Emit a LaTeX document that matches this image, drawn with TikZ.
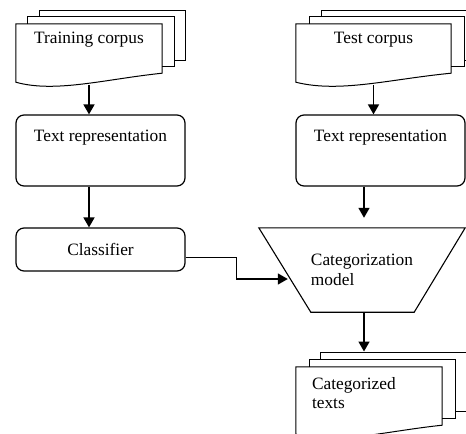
\documentclass[tikz,border=0pt]{standalone}
\usepackage{fontspec}
\setmainfont{Liberation Serif}
\usetikzlibrary{arrows.meta}

% 文書の前ページの波形の輪郭
\newcommand{\docwave}[1]{%
  \draw[line width=1bp] (#1.north west) -- (#1.north east)
    -- ([shift={(0,-12)}]#1.south east)
    .. controls ([shift={(16,-6)}]#1.south) and ([shift={(-34,8)}]#1.south)
    .. ([shift={(0,-3)}]#1.south west) -- cycle;}

\begin{document}
\begin{tikzpicture}[x=1bp, y=-1bp,
    font=\fontsize{17.4}{20}\selectfont,
    page/.style={rectangle, draw, fill=white, line width=1bp, inner sep=0pt},
    frontpage/.style={rectangle, fill=white, inner sep=0pt},
    procbox/.style={rectangle, rounded corners=8bp, draw, line width=1.2bp,
      inner sep=0pt, minimum width=169bp},
    arrow/.style={-{Triangle[length=10bp, width=11bp]}, line width=1.6bp}]
    \useasboundingbox (0,0) rectangle (466,434);
    \clip (0,0) rectangle (466,434);

    % 学習コーパス
    \node[page, minimum width=146bp, minimum height=50bp] (train3) at (112, 36) {};
    \node[page, minimum width=146bp, minimum height=50bp] (train2) at (101, 42) {};
    \node[frontpage, minimum width=146bp, text height=20bp, text depth=41bp] (train) at (89, 54.5) {Training corpus};
    \docwave{train}

    % テストコーパス
    \node[page, minimum width=155bp, minimum height=50bp] (test3) at (398.5, 36) {};
    \node[page, minimum width=155bp, minimum height=50bp] (test2) at (386.5, 42) {};
    \node[frontpage, minimum width=155bp, text height=20bp, text depth=41bp] (test) at (373.5, 54.5) {Test corpus};
    \docwave{test}

    % 処理ボックス
    \node[procbox, text height=27bp, text depth=44bp] (trainrep) at (100.5, 150.5) {Text representation};
    \node[procbox, text height=27bp, text depth=44bp] (testrep) at (380.5, 150.5) {Text representation};
    \node[procbox, minimum height=43bp] (clf) at (100.5, 249.5) {Classifier};

    % 分類モデル(逆台形)
    \node[minimum width=206bp, minimum height=84bp, inner sep=0pt, align=left] (model) at (362, 270) {Categorization\\model};
    \draw[line width=1.1bp] (model.north west) -- (model.north east)
      -- ([shift={(-51,0)}]model.south east) -- ([shift={(52,0)}]model.south west) -- cycle;

    % 分類済みテキスト
    \node[page, minimum width=146bp, minimum height=59bp] (cat3) at (393, 381.5) {};
    \node[page, minimum width=146bp, minimum height=59bp] (cat2) at (382, 388.5) {};
    \node[frontpage, minimum width=146bp, minimum height=70bp] (cat) at (369, 402) {};
    \docwave{cat}
    \node[anchor=north west, inner sep=0pt, align=left] (cattext) at ([shift={(16,10)}]cat.north west) {Categorized\\texts};

    % 矢印
    \draw[arrow] (train.south) -- (train.south |- trainrep.north);
    \draw[arrow] (test.south) -- (test.south |- testrep.north);
    \draw[arrow] (train.south |- trainrep.south) -- (train.south |- clf.north);
    \draw[arrow] ([shift={(2,0)}]model.north |- testrep.south) -- ([shift={(2,-10)}]model.north);
    \draw[arrow] ([shift={(0,8)}]clf.east) -- ++(51,0) |- ([shift={(29,9)}]model.west);
    \draw[arrow] ([shift={(2,0)}]model.south) -- ([shift={(2,0)}]model.south |- cat3.north);
\end{tikzpicture}
\end{document}
